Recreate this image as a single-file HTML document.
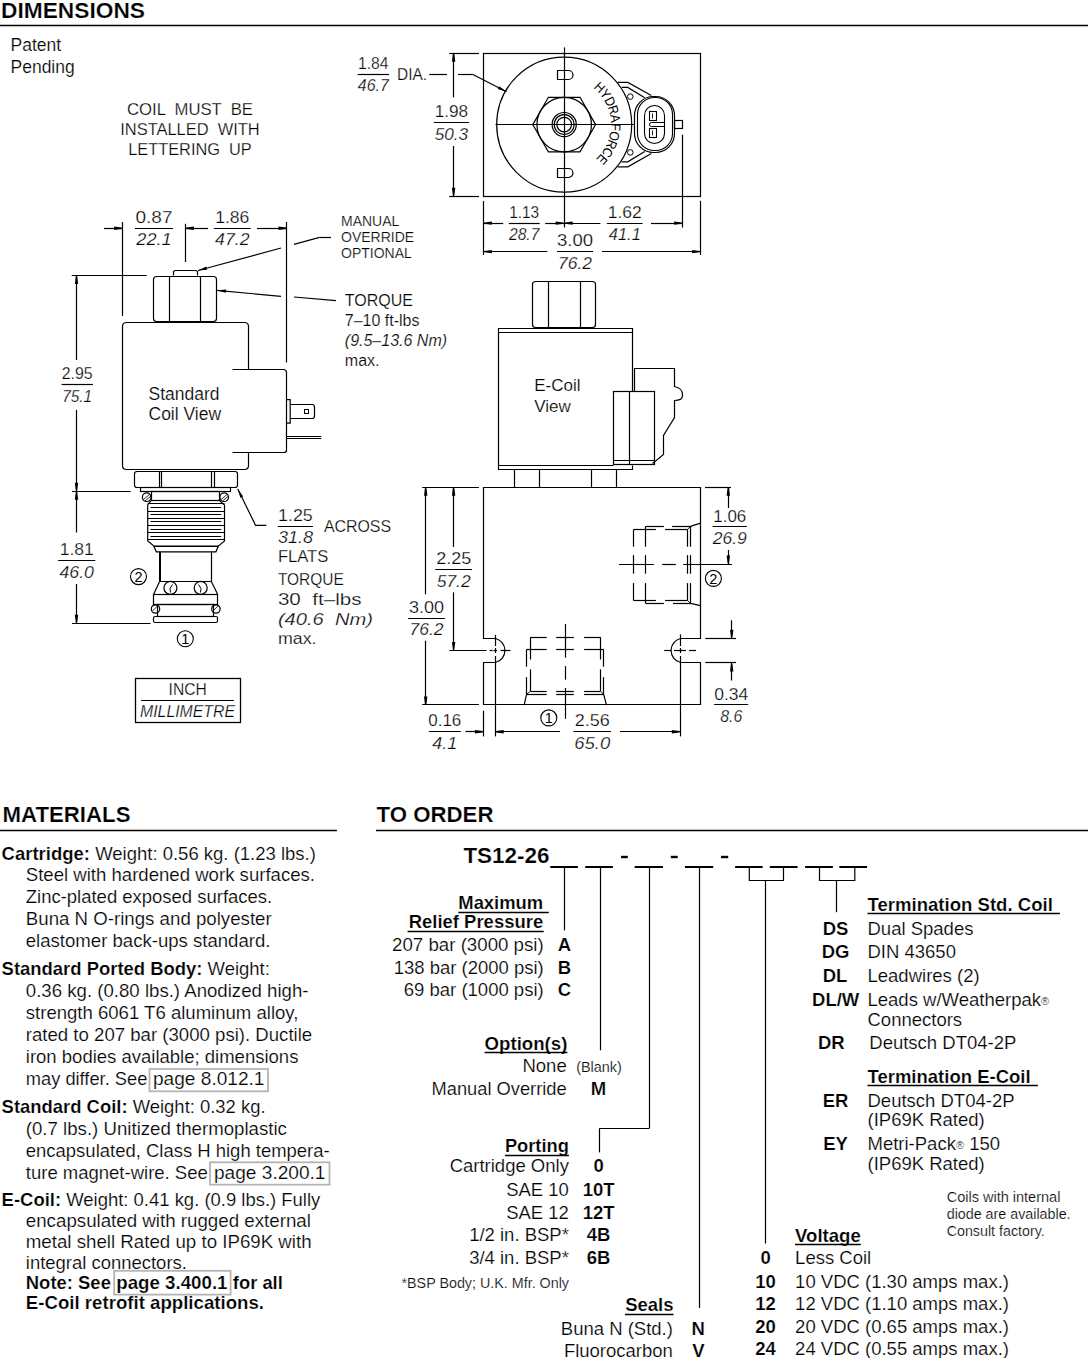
<!DOCTYPE html>
<html><head><meta charset="utf-8"><style>
html,body{margin:0;padding:0;background:#fff;}
body{width:1088px;height:1358px;overflow:hidden;position:relative;}
svg{position:absolute;left:0;top:0;}
text{font-family:"Liberation Sans",sans-serif;fill:#000;stroke:#fff;stroke-width:0.2px;}
text.cad{stroke-width:0.25px;} text.dk{stroke:none;}
</style></head><body>
<svg width="1088" height="1358" viewBox="0 0 1088 1358" stroke="#000" stroke-linecap="butt">
<text x="1.0" y="17.5" font-size="22" font-weight="bold" textLength="144.0" lengthAdjust="spacingAndGlyphs">DIMENSIONS</text>
<line x1="0.0" y1="25.5" x2="1088.0" y2="25.5" stroke-width="1.3"/>
<text x="10.5" y="50.5" font-size="17.5">Patent</text>
<text x="10.5" y="72.5" font-size="17.5">Pending</text>
<text x="190.0" y="115.0" font-size="16.5" text-anchor="middle" textLength="126.0" lengthAdjust="spacingAndGlyphs" class="cad" xml:space="preserve">COIL  MUST  BE</text>
<text x="190.0" y="135.3" font-size="16.5" text-anchor="middle" textLength="139.5" lengthAdjust="spacingAndGlyphs" class="cad" xml:space="preserve">INSTALLED  WITH</text>
<text x="190.0" y="155.0" font-size="16.5" text-anchor="middle" textLength="123.5" lengthAdjust="spacingAndGlyphs" class="cad" xml:space="preserve">LETTERING  UP</text>
<line x1="122.5" y1="222.0" x2="122.5" y2="316.0" stroke-width="1.2"/>
<line x1="185.5" y1="223.8" x2="185.5" y2="262.0" stroke-width="1.2"/>
<line x1="286.5" y1="222.0" x2="286.5" y2="362.5" stroke-width="1.2"/>
<line x1="104.0" y1="228.5" x2="122.5" y2="228.5" stroke-width="1.2"/>
<polygon points="121.7,227.6 121.7,229.0 114.0,230.0 114.0,226.6" fill="#000" stroke="none"/>
<line x1="185.5" y1="228.5" x2="208.0" y2="228.5" stroke-width="1.2"/>
<polygon points="186.3,227.6 186.3,229.0 194.0,230.0 194.0,226.6" fill="#000" stroke="none"/>
<line x1="257.0" y1="228.5" x2="287.0" y2="228.5" stroke-width="1.2"/>
<polygon points="286.2,227.6 286.2,229.0 278.5,230.0 278.5,226.6" fill="#000" stroke="none"/>
<line x1="135.0" y1="228.5" x2="173.0" y2="228.5" stroke-width="1.2"/>
<text x="154.0" y="222.9" font-size="16" text-anchor="middle" textLength="37.0" lengthAdjust="spacingAndGlyphs" class="cad" xml:space="preserve">0.87</text>
<text x="154.0" y="245.3" font-size="16" text-anchor="middle" font-style="italic" textLength="35.4" lengthAdjust="spacingAndGlyphs" class="cad" xml:space="preserve">22.1</text>
<line x1="213.8" y1="228.5" x2="250.8" y2="228.5" stroke-width="1.2"/>
<text x="232.3" y="222.9" font-size="16" text-anchor="middle" textLength="34.2" lengthAdjust="spacingAndGlyphs" class="cad" xml:space="preserve">1.86</text>
<text x="232.3" y="245.3" font-size="16" text-anchor="middle" font-style="italic" textLength="34.5" lengthAdjust="spacingAndGlyphs" class="cad" xml:space="preserve">47.2</text>
<text x="341.0" y="226.0" font-size="14">MANUAL</text>
<text x="341.0" y="242.2" font-size="14">OVERRIDE</text>
<text x="341.0" y="258.4" font-size="14">OPTIONAL</text>
<line x1="331.0" y1="237.5" x2="319.5" y2="237.5" stroke-width="1.2"/>
<line x1="319.5" y1="237.3" x2="294.0" y2="244.3" stroke-width="1.2"/>
<line x1="281.0" y1="248.0" x2="198.0" y2="270.5" stroke-width="1.2"/>
<polygon points="198.0,270.5 206.3,266.6 207.1,269.7" fill="#000" stroke="none"/>
<text x="344.8" y="305.7" font-size="16">TORQUE</text>
<text x="344.8" y="325.7" font-size="16">7–10 ft-lbs</text>
<text x="344.8" y="345.6" font-size="16" font-style="italic">(9.5–13.6 Nm)</text>
<text x="344.8" y="365.6" font-size="16">max.</text>
<line x1="336.0" y1="300.7" x2="294.0" y2="297.0" stroke-width="1.2"/>
<line x1="281.0" y1="296.3" x2="217.0" y2="290.4" stroke-width="1.2"/>
<polygon points="217.0,290.4 226.1,289.6 225.8,292.8" fill="#000" stroke="none"/>
<line x1="71.7" y1="275.5" x2="146.8" y2="275.5" stroke-width="1.2"/>
<line x1="76.5" y1="275.4" x2="76.5" y2="360.0" stroke-width="1.2"/>
<polygon points="75.8,276.2 77.2,276.2 78.2,283.9 74.8,283.9" fill="#000" stroke="none"/>
<line x1="61.6" y1="384.5" x2="92.9" y2="384.5" stroke-width="1.2"/>
<text x="77.2" y="379.2" font-size="16" text-anchor="middle" textLength="31.0" lengthAdjust="spacingAndGlyphs" class="cad" xml:space="preserve">2.95</text>
<text x="77.2" y="401.6" font-size="16" text-anchor="middle" font-style="italic" textLength="30.0" lengthAdjust="spacingAndGlyphs" class="cad" xml:space="preserve">75.1</text>
<line x1="76.5" y1="409.8" x2="76.5" y2="491.2" stroke-width="1.2"/>
<polygon points="75.8,490.4 77.2,490.4 78.2,482.7 74.8,482.7" fill="#000" stroke="none"/>
<line x1="72.0" y1="491.5" x2="130.7" y2="491.5" stroke-width="1.2"/>
<line x1="76.5" y1="491.2" x2="76.5" y2="532.5" stroke-width="1.2"/>
<polygon points="75.8,492.0 77.2,492.0 78.2,499.7 74.8,499.7" fill="#000" stroke="none"/>
<line x1="58.1" y1="560.5" x2="95.3" y2="560.5" stroke-width="1.2"/>
<text x="76.7" y="555.3" font-size="16" text-anchor="middle" textLength="34.0" lengthAdjust="spacingAndGlyphs" class="cad" xml:space="preserve">1.81</text>
<text x="76.7" y="577.7" font-size="16" text-anchor="middle" font-style="italic" textLength="34.5" lengthAdjust="spacingAndGlyphs" class="cad" xml:space="preserve">46.0</text>
<line x1="76.5" y1="584.0" x2="76.5" y2="623.2" stroke-width="1.2"/>
<polygon points="75.8,622.4 77.2,622.4 78.2,614.7 74.8,614.7" fill="#000" stroke="none"/>
<line x1="72.0" y1="623.5" x2="150.5" y2="623.5" stroke-width="1.2"/>
<polyline points="173.5,275.5 173.5,271.5 175.0,270.5 196.0,270.5 197.5,271.5 197.5,275.5" fill="none" stroke-width="1.2"/>
<rect x="153.5" y="276.5" width="63.0" height="45.0" rx="3" fill="none" stroke-width="1.2"/>
<line x1="169.5" y1="276.5" x2="169.5" y2="321.7" stroke-width="1.2"/>
<line x1="200.5" y1="276.5" x2="200.5" y2="321.7" stroke-width="1.2"/>
<path d="M 248.5 369.5 V 326.5 Q 248.5 322.5 244.5 322.5 H 126.5 Q 122.5 322.5 122.5 326.5 V 465.5 Q 122.5 469.5 126.5 469.5 H 244.5 Q 248.5 469.5 248.5 465.5 V 452.5" fill="none" stroke-width="1.2"/>
<path d="M 232.5 369.5 H 283.5 Q 286.5 369.5 286.5 372.5 V 450.5 Q 286.5 452.5 283.5 452.5 H 232.5" fill="none" stroke-width="1.2"/>
<polyline points="286.4,399.6 290.2,399.6 290.2,423.2 286.4,423.2" fill="none" stroke-width="1.2"/>
<path d="M 290.5 404.5 H 312.5 Q 314.5 404.5 314.5 407.5 V 415.5 Q 314.5 418.5 312.5 418.5 H 290.5" fill="none" stroke-width="1.2"/>
<rect x="304.5" y="409.5" width="4.0" height="4.0" rx="0" fill="none" stroke-width="1"/>
<line x1="286.4" y1="436.5" x2="321.3" y2="436.5" stroke-width="1"/>
<line x1="286.4" y1="438.5" x2="321.3" y2="438.5" stroke-width="1"/>
<text x="148.5" y="400.0" font-size="17.5">Standard</text>
<text x="148.5" y="420.0" font-size="17.5">Coil View</text>
<rect x="134.5" y="471.5" width="103.0" height="16.0" rx="2.5" fill="none" stroke-width="1.2"/>
<line x1="159.5" y1="471.6" x2="159.5" y2="487.3" stroke-width="1.2"/>
<line x1="161.5" y1="471.6" x2="161.5" y2="487.3" stroke-width="1.2"/>
<line x1="211.5" y1="471.6" x2="211.5" y2="487.3" stroke-width="1.2"/>
<line x1="214.5" y1="471.6" x2="214.5" y2="487.3" stroke-width="1.2"/>
<rect x="140.5" y="487.5" width="90.0" height="4.0" rx="0" fill="none" stroke-width="1.2"/>
<rect x="151.5" y="491.5" width="68.0" height="9.0" rx="0" fill="none" stroke-width="1.2"/>
<circle cx="146.7" cy="497.2" r="4.3" fill="none" stroke-width="1.2"/>
<circle cx="224.2" cy="497.2" r="4.3" fill="none" stroke-width="1.2"/>
<line x1="143.5" y1="499.5" x2="149.5" y2="494.5" stroke-width="0.8"/>
<line x1="145.0" y1="501.0" x2="151.0" y2="496.0" stroke-width="0.8"/>
<line x1="221.0" y1="499.5" x2="227.0" y2="494.5" stroke-width="0.8"/>
<line x1="222.5" y1="501.0" x2="228.5" y2="496.0" stroke-width="0.8"/>
<polyline points="151.4,500.2 147.7,505.0 147.7,541.0 153.8,546.0 218.4,546.0 224.5,541.0 224.5,505.0 219.2,500.2" fill="none" stroke-width="1.2"/>
<line x1="147.7" y1="503.5" x2="224.5" y2="503.5" stroke-width="1.2"/>
<line x1="150.5" y1="507.5" x2="221.2" y2="507.5" stroke-width="1.2"/>
<line x1="147.7" y1="511.5" x2="224.5" y2="511.5" stroke-width="1.2"/>
<line x1="150.5" y1="514.5" x2="221.2" y2="514.5" stroke-width="1.2"/>
<line x1="147.7" y1="518.5" x2="224.5" y2="518.5" stroke-width="1.2"/>
<line x1="150.5" y1="521.5" x2="221.2" y2="521.5" stroke-width="1.2"/>
<line x1="147.7" y1="525.5" x2="224.5" y2="525.5" stroke-width="1.2"/>
<line x1="150.5" y1="529.5" x2="221.2" y2="529.5" stroke-width="1.2"/>
<line x1="147.7" y1="532.5" x2="224.5" y2="532.5" stroke-width="1.2"/>
<line x1="150.5" y1="536.5" x2="221.2" y2="536.5" stroke-width="1.2"/>
<line x1="147.7" y1="539.5" x2="224.5" y2="539.5" stroke-width="1.2"/>
<polyline points="153.8,546.0 156.3,551.8 215.9,551.8 218.4,546.0" fill="none" stroke-width="1.2"/>
<line x1="153.8" y1="546.5" x2="218.4" y2="546.5" stroke-width="1.2"/>
<line x1="160.0" y1="551.8" x2="160.0" y2="581.6" stroke-width="2"/>
<line x1="211.5" y1="551.8" x2="211.5" y2="581.6" stroke-width="1.2"/>
<polyline points="159.6,581.6 153.8,594.0" fill="none" stroke-width="1.2"/>
<polyline points="211.3,581.6 217.5,594.0" fill="none" stroke-width="1.2"/>
<line x1="159.6" y1="581.5" x2="211.3" y2="581.5" stroke-width="1.2"/>
<circle cx="170.4" cy="587.9" r="6.5" fill="none" stroke-width="1.2"/>
<circle cx="200.7" cy="587.9" r="6.5" fill="none" stroke-width="1.2"/>
<path d="M 172.5 584.5 Q 168.5 588.5 170.5 592.5" fill="none" stroke-width="1"/>
<path d="M 198.5 584.5 Q 202.5 588.5 200.5 592.5" fill="none" stroke-width="1"/>
<rect x="153.5" y="594.5" width="64.0" height="10.0" rx="0" fill="none" stroke-width="1.2"/>
<rect x="157.5" y="604.5" width="56.0" height="12.0" rx="0" fill="none" stroke-width="1.2"/>
<circle cx="155.5" cy="609.0" r="4.2" fill="none" stroke-width="1.2"/>
<circle cx="215.9" cy="609.0" r="4.2" fill="none" stroke-width="1.2"/>
<line x1="152.5" y1="611.0" x2="157.5" y2="606.0" stroke-width="0.8"/>
<line x1="213.0" y1="611.0" x2="218.0" y2="606.0" stroke-width="0.8"/>
<rect x="153.5" y="616.5" width="64.0" height="6.0" rx="1.5" fill="none" stroke-width="1.2"/>
<circle cx="138.5" cy="576.6" r="8.0" fill="none" stroke-width="1.1"/>
<text x="138.5" y="581.8" font-size="14.5" text-anchor="middle" class="cad dk">2</text>
<circle cx="185.3" cy="638.7" r="8.0" fill="none" stroke-width="1.1"/>
<text x="185.3" y="643.9" font-size="14.5" text-anchor="middle" class="cad dk">1</text>
<polyline points="266.4,525.4 255.6,525.4 237.8,489.0" fill="none" stroke-width="1.2"/>
<polygon points="237.8,489.0 243.2,496.4 240.3,497.8" fill="#000" stroke="none"/>
<line x1="277.8" y1="526.5" x2="312.9" y2="526.5" stroke-width="1.2"/>
<text x="295.4" y="521.0" font-size="16" text-anchor="middle" textLength="34.7" lengthAdjust="spacingAndGlyphs" class="cad" xml:space="preserve">1.25</text>
<text x="295.4" y="543.4" font-size="16" text-anchor="middle" font-style="italic" textLength="35.0" lengthAdjust="spacingAndGlyphs" class="cad" xml:space="preserve">31.8</text>
<text x="323.9" y="531.5" font-size="16" textLength="67.2" lengthAdjust="spacingAndGlyphs" class="cad" xml:space="preserve">ACROSS</text>
<text x="277.9" y="561.8" font-size="16" textLength="50.4" lengthAdjust="spacingAndGlyphs" class="cad" xml:space="preserve">FLATS</text>
<text x="277.9" y="585.0" font-size="16" textLength="65.9" lengthAdjust="spacingAndGlyphs" class="cad" xml:space="preserve">TORQUE</text>
<text x="277.9" y="604.9" font-size="16" textLength="83.6" lengthAdjust="spacingAndGlyphs" class="cad" xml:space="preserve">30  ft–lbs</text>
<text x="277.9" y="624.8" font-size="16" font-style="italic" textLength="95.2" lengthAdjust="spacingAndGlyphs" class="cad" xml:space="preserve">(40.6  Nm)</text>
<text x="277.9" y="644.1" font-size="16" textLength="38.6" lengthAdjust="spacingAndGlyphs" class="cad" xml:space="preserve">max.</text>
<rect x="135.5" y="678.5" width="105.0" height="44.0" rx="0" fill="none" stroke-width="1.3"/>
<line x1="141.1" y1="700.5" x2="234.0" y2="700.5" stroke-width="1.2"/>
<text x="187.7" y="695.1" font-size="16" text-anchor="middle" textLength="38.2" lengthAdjust="spacingAndGlyphs" class="cad" xml:space="preserve">INCH</text>
<text x="187.5" y="716.6" font-size="16" text-anchor="middle" font-style="italic" textLength="94.9" lengthAdjust="spacingAndGlyphs" class="cad" xml:space="preserve">MILLIMETRE</text>
<rect x="483.5" y="53.5" width="217.0" height="143.0" rx="0" fill="none" stroke-width="1.2"/>
<line x1="449.2" y1="53.5" x2="479.0" y2="53.5" stroke-width="1.2"/>
<line x1="449.2" y1="196.5" x2="479.0" y2="196.5" stroke-width="1.2"/>
<line x1="453.5" y1="53.2" x2="453.5" y2="97.4" stroke-width="1.2"/>
<polygon points="452.9,54.0 454.3,54.0 455.3,61.7 451.9,61.7" fill="#000" stroke="none"/>
<line x1="453.5" y1="146.0" x2="453.5" y2="196.2" stroke-width="1.2"/>
<polygon points="452.9,195.4 454.3,195.4 455.3,187.7 451.9,187.7" fill="#000" stroke="none"/>
<line x1="433.8" y1="122.5" x2="469.0" y2="122.5" stroke-width="1.2"/>
<text x="451.4" y="117.3" font-size="16" text-anchor="middle" textLength="33.5" lengthAdjust="spacingAndGlyphs" class="cad" xml:space="preserve">1.98</text>
<text x="451.4" y="139.7" font-size="16" text-anchor="middle" font-style="italic" textLength="33.5" lengthAdjust="spacingAndGlyphs" class="cad" xml:space="preserve">50.3</text>
<line x1="357.6" y1="74.5" x2="389.0" y2="74.5" stroke-width="1.2"/>
<text x="373.3" y="68.8" font-size="16" text-anchor="middle" textLength="30.5" lengthAdjust="spacingAndGlyphs" class="cad" xml:space="preserve">1.84</text>
<text x="373.3" y="91.2" font-size="16" text-anchor="middle" font-style="italic" textLength="31.0" lengthAdjust="spacingAndGlyphs" class="cad" xml:space="preserve">46.7</text>
<text x="397.0" y="79.7" font-size="16" textLength="30.0" lengthAdjust="spacingAndGlyphs" class="cad" xml:space="preserve">DIA.</text>
<line x1="429.3" y1="74.5" x2="447.0" y2="74.5" stroke-width="1.2"/>
<line x1="458.0" y1="74.5" x2="472.4" y2="74.5" stroke-width="1.2"/>
<line x1="472.4" y1="74.2" x2="506.5" y2="91.8" stroke-width="1.2"/>
<polygon points="506.5,91.8 497.8,89.1 499.2,86.3" fill="#000" stroke="none"/>
<circle cx="564.2" cy="124.6" r="67.5" fill="none" stroke-width="1.2"/>
<polygon points="532.8,124.6 548.4,97.3 580.0,97.3 595.6,124.6 580.0,151.9 548.4,151.9" fill="none" stroke-width="1.2"/>
<circle cx="564.2" cy="124.6" r="27.3" fill="none" stroke-width="1.2"/>
<circle cx="564.2" cy="124.6" r="12.1" fill="none" stroke-width="1.2"/>
<circle cx="564.2" cy="124.6" r="10.0" fill="none" stroke-width="1.2"/>
<circle cx="564.2" cy="124.6" r="7.3" fill="none" stroke-width="1.2"/>
<path d="M 557.5 70.5 H 568.5 A 4.4 4.4 0 0 1 568.5 79.5 H 557.5 Z" fill="none" stroke-width="1.2"/>
<path d="M 557.5 168.5 H 568.5 A 4.45 4.45 0 0 1 568.5 177.5 H 557.5 Z" fill="none" stroke-width="1.2"/>
<polyline points="617.9,82.4 627.8,82.4 651.4,95.6" fill="none" stroke-width="1.2"/>
<polyline points="621.6,87.4 627.8,87.4 644.7,97.7" fill="none" stroke-width="1.2"/>
<polyline points="617.9,166.8 627.8,166.8 651.4,153.6" fill="none" stroke-width="1.2"/>
<polyline points="621.6,161.8 627.8,161.8 644.7,151.5" fill="none" stroke-width="1.2"/>
<circle cx="630.3" cy="96.6" r="2.8" fill="none" stroke-width="1"/>
<circle cx="630.3" cy="152.4" r="2.8" fill="none" stroke-width="1"/>
<rect x="634.5" y="96.5" width="40.0" height="56.0" rx="19" stroke-width="1.2" fill="#fff"/>
<rect x="637.5" y="97.5" width="35.0" height="53.0" rx="17" fill="none" stroke-width="1.1"/>
<rect x="644.5" y="105.5" width="20.0" height="38.0" rx="10" fill="none" stroke-width="1.1"/>
<path d="M 664.5 122.5 H 651.5 Q 649.5 122.5 649.5 124.5 Q 649.5 126.5 651.5 126.5 H 664.5" fill="none" stroke-width="1"/>
<rect x="649.5" y="111.5" width="7.0" height="9.0" rx="0" fill="none" stroke-width="1.1"/>
<line x1="652.5" y1="113.5" x2="652.5" y2="118.5" stroke-width="0.9"/>
<rect x="649.5" y="128.5" width="7.0" height="9.0" rx="0" fill="none" stroke-width="1.1"/>
<line x1="652.5" y1="130.4" x2="652.5" y2="135.4" stroke-width="0.9"/>
<rect x="674.5" y="120.5" width="8.0" height="8.0" rx="0" fill="none" stroke-width="1.2"/>
<line x1="564.5" y1="47.4" x2="564.5" y2="227.5" stroke-width="1.2"/>
<line x1="495.5" y1="124.5" x2="634.0" y2="124.5" stroke-width="1.2"/>
<text transform="translate(596.41,90.65) rotate(43.50) scale(0.9,1)" font-size="13.5" text-anchor="middle" class="cad dk">H</text>
<text transform="translate(601.77,96.70) rotate(53.40) scale(0.9,1)" font-size="13.5" text-anchor="middle" class="cad dk">Y</text>
<text transform="translate(606.01,103.57) rotate(63.30) scale(0.9,1)" font-size="13.5" text-anchor="middle" class="cad dk">D</text>
<text transform="translate(609.00,111.07) rotate(73.20) scale(0.9,1)" font-size="13.5" text-anchor="middle" class="cad dk">R</text>
<text transform="translate(610.66,118.98) rotate(83.10) scale(0.9,1)" font-size="13.5" text-anchor="middle" class="cad dk">A</text>
<text transform="translate(610.94,127.05) rotate(93.00) scale(0.9,1)" font-size="13.5" text-anchor="middle" class="cad dk">F</text>
<text transform="translate(609.82,135.05) rotate(102.90) scale(0.9,1)" font-size="13.5" text-anchor="middle" class="cad dk">O</text>
<text transform="translate(607.34,142.74) rotate(112.80) scale(0.9,1)" font-size="13.5" text-anchor="middle" class="cad dk">R</text>
<text transform="translate(603.58,149.88) rotate(122.70) scale(0.9,1)" font-size="13.5" text-anchor="middle" class="cad dk">C</text>
<text transform="translate(598.65,156.28) rotate(132.60) scale(0.9,1)" font-size="13.5" text-anchor="middle" class="cad dk">E</text>
<line x1="682.5" y1="134.7" x2="682.5" y2="227.5" stroke-width="1.2"/>
<line x1="483.5" y1="201.0" x2="483.5" y2="255.0" stroke-width="1.2"/>
<line x1="700.5" y1="200.8" x2="700.5" y2="255.0" stroke-width="1.2"/>
<line x1="483.4" y1="223.5" x2="503.2" y2="223.5" stroke-width="1.2"/>
<polygon points="484.2,222.4 484.2,223.8 491.9,224.8 491.9,221.4" fill="#000" stroke="none"/>
<line x1="545.2" y1="223.5" x2="564.2" y2="223.5" stroke-width="1.2"/>
<polygon points="563.4,222.4 563.4,223.8 555.7,224.8 555.7,221.4" fill="#000" stroke="none"/>
<line x1="564.2" y1="223.5" x2="600.4" y2="223.5" stroke-width="1.2"/>
<polygon points="565.0,222.4 565.0,223.8 572.7,224.8 572.7,221.4" fill="#000" stroke="none"/>
<line x1="651.0" y1="223.5" x2="682.6" y2="223.5" stroke-width="1.2"/>
<polygon points="681.8,222.4 681.8,223.8 674.1,224.8 674.1,221.4" fill="#000" stroke="none"/>
<line x1="508.8" y1="223.5" x2="539.6" y2="223.5" stroke-width="1.2"/>
<text x="524.2" y="217.7" font-size="16" text-anchor="middle" textLength="30.0" lengthAdjust="spacingAndGlyphs" class="cad" xml:space="preserve">1.13</text>
<text x="524.2" y="240.1" font-size="16" text-anchor="middle" font-style="italic" textLength="30.5" lengthAdjust="spacingAndGlyphs" class="cad" xml:space="preserve">28.7</text>
<line x1="606.9" y1="223.5" x2="642.6" y2="223.5" stroke-width="1.2"/>
<text x="624.8" y="217.7" font-size="16" text-anchor="middle" textLength="34.0" lengthAdjust="spacingAndGlyphs" class="cad" xml:space="preserve">1.62</text>
<text x="624.8" y="240.1" font-size="16" text-anchor="middle" font-style="italic" textLength="32.0" lengthAdjust="spacingAndGlyphs" class="cad" xml:space="preserve">41.1</text>
<line x1="483.4" y1="251.5" x2="547.4" y2="251.5" stroke-width="1.2"/>
<polygon points="484.2,250.9 484.2,252.3 491.9,253.3 491.9,249.9" fill="#000" stroke="none"/>
<line x1="602.0" y1="251.5" x2="700.6" y2="251.5" stroke-width="1.2"/>
<polygon points="699.8,250.9 699.8,252.3 692.1,253.3 692.1,249.9" fill="#000" stroke="none"/>
<line x1="557.0" y1="251.5" x2="593.0" y2="251.5" stroke-width="1.2"/>
<text x="575.0" y="246.2" font-size="16" text-anchor="middle" textLength="36.0" lengthAdjust="spacingAndGlyphs" class="cad" xml:space="preserve">3.00</text>
<text x="575.0" y="268.6" font-size="16" text-anchor="middle" font-style="italic" textLength="34.0" lengthAdjust="spacingAndGlyphs" class="cad" xml:space="preserve">76.2</text>
<rect x="532.5" y="281.5" width="63.0" height="46.0" rx="3" fill="none" stroke-width="1.2"/>
<line x1="548.5" y1="281.5" x2="548.5" y2="327.2" stroke-width="1.2"/>
<line x1="580.5" y1="281.5" x2="580.5" y2="327.2" stroke-width="1.2"/>
<path d="M 632.5 391.5 V 328.5 H 498.5 V 469.5 H 632.5 V 465.5" fill="none" stroke-width="1.2"/>
<line x1="498.2" y1="332.5" x2="632.7" y2="332.5" stroke-width="1.2"/>
<line x1="498.2" y1="465.5" x2="613.5" y2="465.5" stroke-width="1.2"/>
<path d="M 634.5 391.5 V 368.5 H 674.5 V 386.5 Q 683.5 388.5 682.5 395.5 Q 682.5 400.5 674.5 400.5 V 417.5 L 663.5 435.5 V 454.5 L 652.5 463.5" fill="none" stroke-width="1.2"/>
<rect x="613.5" y="391.5" width="41.0" height="73.0" rx="0" fill="none" stroke-width="1.2"/>
<line x1="629.5" y1="391.3" x2="629.5" y2="464.1" stroke-width="1.2"/>
<line x1="613.5" y1="460.5" x2="654.3" y2="460.5" stroke-width="1.2"/>
<line x1="514.5" y1="469.6" x2="514.5" y2="487.4" stroke-width="1.2"/>
<line x1="539.5" y1="469.6" x2="539.5" y2="487.4" stroke-width="1.2"/>
<line x1="591.5" y1="469.6" x2="591.5" y2="487.4" stroke-width="1.2"/>
<line x1="616.5" y1="469.6" x2="616.5" y2="487.4" stroke-width="1.2"/>
<text x="534.2" y="391.3" font-size="17">E-Coil</text>
<text x="534.2" y="411.6" font-size="17">View</text>
<path d="M 483.5 487.5 H 700.5 V 638.5 H 680.5 A 12.35 12.35 0 0 0 680.5 662.5 H 700.5 V 704.5 H 483.5 V 662.5 H 495.5 A 12.35 12.35 0 0 0 495.5 638.5 H 483.5 Z" fill="none" stroke-width="1.2"/>
<line x1="422.2" y1="487.5" x2="478.9" y2="487.5" stroke-width="1.2"/>
<line x1="422.2" y1="704.5" x2="478.9" y2="704.5" stroke-width="1.2"/>
<line x1="425.5" y1="487.2" x2="425.5" y2="594.3" stroke-width="1.2"/>
<polygon points="425.0,488.0 426.4,488.0 427.4,495.7 424.0,495.7" fill="#000" stroke="none"/>
<line x1="425.5" y1="640.7" x2="425.5" y2="705.0" stroke-width="1.2"/>
<polygon points="425.0,704.2 426.4,704.2 427.4,696.5 424.0,696.5" fill="#000" stroke="none"/>
<line x1="408.1" y1="618.5" x2="444.9" y2="618.5" stroke-width="1.2"/>
<text x="426.5" y="613.0" font-size="16" text-anchor="middle" textLength="35.0" lengthAdjust="spacingAndGlyphs" class="cad" xml:space="preserve">3.00</text>
<text x="426.5" y="635.4" font-size="16" text-anchor="middle" font-style="italic" textLength="34.0" lengthAdjust="spacingAndGlyphs" class="cad" xml:space="preserve">76.2</text>
<line x1="453.5" y1="487.2" x2="453.5" y2="547.0" stroke-width="1.2"/>
<polygon points="452.9,488.0 454.3,488.0 455.3,495.7 451.9,495.7" fill="#000" stroke="none"/>
<line x1="453.5" y1="592.3" x2="453.5" y2="650.5" stroke-width="1.2"/>
<polygon points="452.9,649.7 454.3,649.7 455.3,642.0 451.9,642.0" fill="#000" stroke="none"/>
<line x1="435.3" y1="569.5" x2="472.1" y2="569.5" stroke-width="1.2"/>
<text x="453.7" y="564.2" font-size="16" text-anchor="middle" textLength="35.0" lengthAdjust="spacingAndGlyphs" class="cad" xml:space="preserve">2.25</text>
<text x="453.7" y="586.6" font-size="16" text-anchor="middle" font-style="italic" textLength="34.0" lengthAdjust="spacingAndGlyphs" class="cad" xml:space="preserve">57.2</text>
<line x1="449.4" y1="650.5" x2="486.5" y2="650.5" stroke-width="1.2"/>
<line x1="489.6" y1="650.5" x2="492.7" y2="650.5" stroke-width="1.2"/>
<line x1="493.5" y1="650.5" x2="497.0" y2="650.5" stroke-width="1.2"/>
<line x1="500.5" y1="650.5" x2="510.5" y2="650.5" stroke-width="1.2"/>
<line x1="495.5" y1="634.9" x2="495.5" y2="646.0" stroke-width="1.2"/>
<line x1="495.5" y1="648.0" x2="495.5" y2="653.0" stroke-width="1.2"/>
<line x1="495.5" y1="656.0" x2="495.5" y2="736.4" stroke-width="1.2"/>
<line x1="483.5" y1="710.7" x2="483.5" y2="736.4" stroke-width="1.2"/>
<line x1="465.5" y1="731.5" x2="483.4" y2="731.5" stroke-width="1.2"/>
<polygon points="482.6,731.0 482.6,732.4 474.9,733.4 474.9,730.0" fill="#000" stroke="none"/>
<line x1="428.8" y1="731.5" x2="460.8" y2="731.5" stroke-width="1.2"/>
<text x="444.8" y="726.3" font-size="16" text-anchor="middle" textLength="33.0" lengthAdjust="spacingAndGlyphs" class="cad" xml:space="preserve">0.16</text>
<text x="444.8" y="748.7" font-size="16" text-anchor="middle" font-style="italic" textLength="25.0" lengthAdjust="spacingAndGlyphs" class="cad" xml:space="preserve">4.1</text>
<line x1="680.5" y1="634.4" x2="680.5" y2="646.0" stroke-width="1.2"/>
<line x1="680.5" y1="648.0" x2="680.5" y2="653.0" stroke-width="1.2"/>
<line x1="680.5" y1="656.0" x2="680.5" y2="736.4" stroke-width="1.2"/>
<line x1="664.2" y1="650.5" x2="671.0" y2="650.5" stroke-width="1.2"/>
<line x1="674.0" y1="650.5" x2="686.0" y2="650.5" stroke-width="1.2"/>
<line x1="689.0" y1="650.5" x2="696.0" y2="650.5" stroke-width="1.2"/>
<line x1="495.2" y1="731.5" x2="560.0" y2="731.5" stroke-width="1.2"/>
<polygon points="496.0,731.0 496.0,732.4 503.7,733.4 503.7,730.0" fill="#000" stroke="none"/>
<line x1="620.0" y1="731.5" x2="680.3" y2="731.5" stroke-width="1.2"/>
<polygon points="679.5,731.0 679.5,732.4 671.8,733.4 671.8,730.0" fill="#000" stroke="none"/>
<line x1="573.5" y1="731.5" x2="611.0" y2="731.5" stroke-width="1.2"/>
<text x="592.3" y="726.3" font-size="16" text-anchor="middle" textLength="35.0" lengthAdjust="spacingAndGlyphs" class="cad" xml:space="preserve">2.56</text>
<text x="592.3" y="748.7" font-size="16" text-anchor="middle" font-style="italic" textLength="36.0" lengthAdjust="spacingAndGlyphs" class="cad" xml:space="preserve">65.0</text>
<line x1="633.5" y1="529.5" x2="655.9" y2="529.5" stroke-width="1.2"/>
<line x1="665.1" y1="529.5" x2="687.5" y2="529.5" stroke-width="1.2"/>
<line x1="633.5" y1="600.5" x2="655.9" y2="600.5" stroke-width="1.2"/>
<line x1="665.1" y1="600.5" x2="687.5" y2="600.5" stroke-width="1.2"/>
<line x1="633.5" y1="529.5" x2="633.5" y2="546.7" stroke-width="1.2"/>
<line x1="633.5" y1="555.1" x2="633.5" y2="573.7" stroke-width="1.2"/>
<line x1="633.5" y1="583.1" x2="633.5" y2="600.5" stroke-width="1.2"/>
<line x1="687.5" y1="529.5" x2="687.5" y2="546.7" stroke-width="1.2"/>
<line x1="687.5" y1="555.1" x2="687.5" y2="573.7" stroke-width="1.2"/>
<line x1="687.5" y1="583.1" x2="687.5" y2="600.5" stroke-width="1.2"/>
<line x1="645.5" y1="526.5" x2="663.9" y2="526.5" stroke-width="1.2"/>
<line x1="672.1" y1="526.5" x2="690.4" y2="526.5" stroke-width="1.2"/>
<line x1="645.5" y1="603.5" x2="663.9" y2="603.5" stroke-width="1.2"/>
<line x1="673.0" y1="603.5" x2="690.4" y2="603.5" stroke-width="1.2"/>
<line x1="645.5" y1="526.4" x2="645.5" y2="546.7" stroke-width="1.2"/>
<line x1="645.5" y1="555.1" x2="645.5" y2="573.7" stroke-width="1.2"/>
<line x1="645.5" y1="583.1" x2="645.5" y2="603.4" stroke-width="1.2"/>
<line x1="690.5" y1="526.4" x2="690.5" y2="546.7" stroke-width="1.2"/>
<line x1="690.5" y1="555.1" x2="690.5" y2="573.7" stroke-width="1.2"/>
<line x1="690.5" y1="583.1" x2="690.5" y2="603.4" stroke-width="1.2"/>
<line x1="687.5" y1="529.5" x2="690.4" y2="526.4" stroke-width="0.9"/>
<line x1="687.5" y1="600.5" x2="690.4" y2="603.4" stroke-width="0.9"/>
<line x1="690.4" y1="526.4" x2="700.6" y2="523.1" stroke-width="1.2"/>
<line x1="690.4" y1="603.4" x2="700.6" y2="605.6" stroke-width="1.2"/>
<line x1="619.0" y1="564.5" x2="653.9" y2="564.5" stroke-width="1.2"/>
<line x1="662.1" y1="564.5" x2="675.8" y2="564.5" stroke-width="1.2"/>
<line x1="683.2" y1="564.5" x2="732.0" y2="564.5" stroke-width="1.2"/>
<line x1="705.0" y1="487.5" x2="731.0" y2="487.5" stroke-width="1.2"/>
<line x1="728.5" y1="487.2" x2="728.5" y2="508.0" stroke-width="1.2"/>
<polygon points="727.6,488.0 729.0,488.0 730.0,495.7 726.6,495.7" fill="#000" stroke="none"/>
<line x1="728.5" y1="550.0" x2="728.5" y2="564.0" stroke-width="1.2"/>
<polygon points="727.6,563.2 729.0,563.2 730.0,555.5 726.6,555.5" fill="#000" stroke="none"/>
<line x1="712.6" y1="526.5" x2="746.9" y2="526.5" stroke-width="1.2"/>
<text x="729.8" y="521.5" font-size="16" text-anchor="middle" textLength="33.0" lengthAdjust="spacingAndGlyphs" class="cad" xml:space="preserve">1.06</text>
<text x="729.8" y="543.9" font-size="16" text-anchor="middle" font-style="italic" textLength="34.0" lengthAdjust="spacingAndGlyphs" class="cad" xml:space="preserve">26.9</text>
<circle cx="713.4" cy="578.4" r="8.0" fill="none" stroke-width="1.1"/>
<text x="713.4" y="583.6" font-size="14.5" text-anchor="middle" class="cad dk">2</text>
<line x1="705.3" y1="638.5" x2="736.0" y2="638.5" stroke-width="1.2"/>
<line x1="705.3" y1="662.5" x2="736.0" y2="662.5" stroke-width="1.2"/>
<line x1="731.5" y1="620.3" x2="731.5" y2="638.2" stroke-width="1.2"/>
<polygon points="731.0,637.4 732.4,637.4 733.4,629.7 730.0,629.7" fill="#000" stroke="none"/>
<line x1="731.5" y1="662.9" x2="731.5" y2="680.5" stroke-width="1.2"/>
<polygon points="731.0,663.7 732.4,663.7 733.4,671.4 730.0,671.4" fill="#000" stroke="none"/>
<line x1="714.2" y1="704.5" x2="748.2" y2="704.5" stroke-width="1.2"/>
<text x="731.2" y="699.6" font-size="16" text-anchor="middle" textLength="34.0" lengthAdjust="spacingAndGlyphs" class="cad" xml:space="preserve">0.34</text>
<text x="731.2" y="722.0" font-size="16" text-anchor="middle" font-style="italic" textLength="22.0" lengthAdjust="spacingAndGlyphs" class="cad" xml:space="preserve">8.6</text>
<line x1="530.4" y1="637.5" x2="546.7" y2="637.5" stroke-width="1.2"/>
<line x1="556.2" y1="637.5" x2="573.8" y2="637.5" stroke-width="1.2"/>
<line x1="584.1" y1="637.5" x2="600.5" y2="637.5" stroke-width="1.2"/>
<line x1="530.4" y1="691.5" x2="546.7" y2="691.5" stroke-width="1.2"/>
<line x1="556.2" y1="691.5" x2="573.8" y2="691.5" stroke-width="1.2"/>
<line x1="584.1" y1="691.5" x2="600.5" y2="691.5" stroke-width="1.2"/>
<line x1="530.5" y1="637.3" x2="530.5" y2="659.5" stroke-width="1.2"/>
<line x1="530.5" y1="669.4" x2="530.5" y2="691.2" stroke-width="1.2"/>
<line x1="600.5" y1="637.3" x2="600.5" y2="659.5" stroke-width="1.2"/>
<line x1="600.5" y1="669.4" x2="600.5" y2="691.2" stroke-width="1.2"/>
<line x1="526.5" y1="649.5" x2="546.7" y2="649.5" stroke-width="1.2"/>
<line x1="556.2" y1="649.5" x2="573.8" y2="649.5" stroke-width="1.2"/>
<line x1="584.1" y1="649.5" x2="603.7" y2="649.5" stroke-width="1.2"/>
<line x1="526.5" y1="694.5" x2="546.7" y2="694.5" stroke-width="1.2"/>
<line x1="556.2" y1="694.5" x2="573.8" y2="694.5" stroke-width="1.2"/>
<line x1="584.1" y1="694.5" x2="603.7" y2="694.5" stroke-width="1.2"/>
<line x1="526.5" y1="649.4" x2="526.5" y2="666.7" stroke-width="1.2"/>
<line x1="526.5" y1="677.2" x2="526.5" y2="694.3" stroke-width="1.2"/>
<line x1="603.5" y1="649.4" x2="603.5" y2="666.7" stroke-width="1.2"/>
<line x1="603.5" y1="677.2" x2="603.5" y2="694.3" stroke-width="1.2"/>
<line x1="526.5" y1="694.3" x2="530.4" y2="691.2" stroke-width="0.9"/>
<line x1="603.7" y1="694.3" x2="600.5" y2="691.2" stroke-width="0.9"/>
<line x1="526.5" y1="694.3" x2="524.2" y2="705.2" stroke-width="1.2"/>
<line x1="603.7" y1="694.3" x2="606.5" y2="705.2" stroke-width="1.2"/>
<line x1="565.5" y1="624.1" x2="565.5" y2="657.7" stroke-width="1.2"/>
<line x1="565.5" y1="666.1" x2="565.5" y2="679.7" stroke-width="1.2"/>
<line x1="565.5" y1="688.0" x2="565.5" y2="718.8" stroke-width="1.2"/>
<circle cx="548.8" cy="717.9" r="8.0" fill="none" stroke-width="1.1"/>
<text x="548.8" y="723.1" font-size="14.5" text-anchor="middle" class="cad dk">1</text>
<text x="2.5" y="822.4" font-size="22" font-weight="bold" textLength="128.0" lengthAdjust="spacingAndGlyphs">MATERIALS</text>
<line x1="0.0" y1="830.5" x2="336.9" y2="830.5" stroke-width="1.3"/>
<text x="1.6" y="859.5" font-size="18.5" textLength="314.3" lengthAdjust="spacingAndGlyphs"><tspan font-weight="bold">Cartridge: </tspan><tspan>Weight: 0.56 kg. (1.23 lbs.)</tspan></text>
<text x="25.8" y="881.4" font-size="18.5" textLength="289.2" lengthAdjust="spacingAndGlyphs"><tspan>Steel with hardened work surfaces.</tspan></text>
<text x="25.8" y="903.3" font-size="18.5" textLength="246.4" lengthAdjust="spacingAndGlyphs"><tspan>Zinc-plated exposed surfaces.</tspan></text>
<text x="25.8" y="925.2" font-size="18.5" textLength="245.9" lengthAdjust="spacingAndGlyphs"><tspan>Buna N O-rings and polyester</tspan></text>
<text x="25.8" y="947.1" font-size="18.5" textLength="244.6" lengthAdjust="spacingAndGlyphs"><tspan>elastomer back-ups standard.</tspan></text>
<text x="1.6" y="974.8" font-size="18.5" textLength="268.2" lengthAdjust="spacingAndGlyphs"><tspan font-weight="bold">Standard Ported Body: </tspan><tspan>Weight:</tspan></text>
<text x="25.8" y="996.8" font-size="18.5" textLength="282.7" lengthAdjust="spacingAndGlyphs"><tspan>0.36 kg. (0.80 lbs.) Anodized high-</tspan></text>
<text x="25.8" y="1018.8" font-size="18.5" textLength="272.6" lengthAdjust="spacingAndGlyphs"><tspan>strength 6061 T6 aluminum alloy,</tspan></text>
<text x="25.8" y="1040.8" font-size="18.5" textLength="286.4" lengthAdjust="spacingAndGlyphs"><tspan>rated to 207 bar (3000 psi). Ductile</tspan></text>
<text x="25.8" y="1062.8" font-size="18.5" textLength="272.6" lengthAdjust="spacingAndGlyphs"><tspan>iron bodies available; dimensions</tspan></text>
<text x="25.8" y="1084.8" font-size="18.5" textLength="121.5" lengthAdjust="spacingAndGlyphs"><tspan>may differ. See</tspan></text>
<rect x="149.5" y="1069" width="118.5" height="22.3" fill="none" stroke="#b4b4b4" stroke-width="1.8"/>
<text x="153.0" y="1084.8" font-size="18.5" textLength="111.5" lengthAdjust="spacingAndGlyphs">page 8.012.1</text>
<text x="1.6" y="1112.5" font-size="18.5" textLength="264.0" lengthAdjust="spacingAndGlyphs"><tspan font-weight="bold">Standard Coil: </tspan><tspan>Weight: 0.32 kg.</tspan></text>
<text x="25.8" y="1134.6" font-size="18.5" textLength="261.1" lengthAdjust="spacingAndGlyphs"><tspan>(0.7 lbs.) Unitized thermoplastic</tspan></text>
<text x="25.8" y="1156.6" font-size="18.5" textLength="303.9" lengthAdjust="spacingAndGlyphs"><tspan>encapsulated, Class H high tempera-</tspan></text>
<text x="25.8" y="1178.5" font-size="18.5" textLength="182.0" lengthAdjust="spacingAndGlyphs"><tspan>ture magnet-wire. See</tspan></text>
<rect x="210" y="1162.3" width="119.5" height="22.4" fill="none" stroke="#b4b4b4" stroke-width="1.8"/>
<text x="214.0" y="1178.5" font-size="18.5" textLength="111.5" lengthAdjust="spacingAndGlyphs">page 3.200.1</text>
<text x="1.6" y="1205.6" font-size="18.5" textLength="318.7" lengthAdjust="spacingAndGlyphs"><tspan font-weight="bold">E-Coil: </tspan><tspan>Weight: 0.41 kg. (0.9 lbs.) Fully</tspan></text>
<text x="25.8" y="1226.6" font-size="18.5" textLength="285.1" lengthAdjust="spacingAndGlyphs"><tspan>encapsulated with rugged external</tspan></text>
<text x="25.8" y="1247.8" font-size="18.5" textLength="285.8" lengthAdjust="spacingAndGlyphs"><tspan>metal shell Rated up to IP69K with</tspan></text>
<text x="25.8" y="1268.7" font-size="18.5" textLength="161.1" lengthAdjust="spacingAndGlyphs"><tspan>integral connectors.</tspan></text>
<text x="25.8" y="1288.5" font-size="18.5" textLength="85.1" lengthAdjust="spacingAndGlyphs"><tspan font-weight="bold">Note: See</tspan></text>
<rect x="114.2" y="1270.8" width="116.4" height="23.8" fill="none" stroke="#b4b4b4" stroke-width="1.8"/>
<text x="116.3" y="1288.5" font-size="18.5" font-weight="bold" textLength="111.2" lengthAdjust="spacingAndGlyphs">page 3.400.1</text>
<text x="232.8" y="1288.5" font-size="18.5" font-weight="bold" textLength="50.0" lengthAdjust="spacingAndGlyphs">for all</text>
<text x="25.8" y="1308.8" font-size="18.5" textLength="238.2" lengthAdjust="spacingAndGlyphs"><tspan font-weight="bold">E-Coil retrofit applications.</tspan></text>
<text x="376.5" y="822.2" font-size="22" font-weight="bold" textLength="117.0" lengthAdjust="spacingAndGlyphs">TO ORDER</text>
<line x1="375.9" y1="830.5" x2="1088.0" y2="830.5" stroke-width="1.3"/>
<text x="463.4" y="862.5" font-size="22" font-weight="bold" textLength="86.0" lengthAdjust="spacingAndGlyphs">TS12-26</text>
<line x1="550.3" y1="867.0" x2="577.9" y2="867.0" stroke-width="2"/>
<line x1="585.2" y1="867.0" x2="612.9" y2="867.0" stroke-width="2"/>
<line x1="634.7" y1="867.0" x2="663.0" y2="867.0" stroke-width="2"/>
<line x1="684.9" y1="867.0" x2="713.2" y2="867.0" stroke-width="2"/>
<line x1="735.1" y1="867.0" x2="762.6" y2="867.0" stroke-width="2"/>
<line x1="769.8" y1="867.0" x2="797.6" y2="867.0" stroke-width="2"/>
<line x1="805.1" y1="867.0" x2="832.9" y2="867.0" stroke-width="2"/>
<line x1="839.3" y1="867.0" x2="867.1" y2="867.0" stroke-width="2"/>
<line x1="621.1" y1="857.0" x2="627.8" y2="857.0" stroke-width="2.4"/>
<line x1="670.8" y1="857.0" x2="677.7" y2="857.0" stroke-width="2.4"/>
<line x1="721.0" y1="857.0" x2="728.2" y2="857.0" stroke-width="2.4"/>
<line x1="564.5" y1="867.2" x2="564.5" y2="930.4" stroke-width="1.2"/>
<line x1="600.5" y1="867.2" x2="600.5" y2="1050.3" stroke-width="1.2"/>
<line x1="649.5" y1="867.2" x2="649.5" y2="1128.2" stroke-width="1.2"/>
<line x1="649.4" y1="1128.5" x2="599.8" y2="1128.5" stroke-width="1.2"/>
<line x1="599.5" y1="1128.2" x2="599.5" y2="1152.4" stroke-width="1.2"/>
<line x1="699.5" y1="867.2" x2="699.5" y2="1308.0" stroke-width="1.2"/>
<polyline points="749.3,867.2 749.3,880.5 783.5,880.5 783.5,867.2" fill="none" stroke-width="1.2"/>
<line x1="765.5" y1="880.5" x2="765.5" y2="1243.4" stroke-width="1.2"/>
<polyline points="819.5,867.2 819.5,880.5 854.8,880.5 854.8,867.2" fill="none" stroke-width="1.2"/>
<line x1="836.5" y1="880.5" x2="836.5" y2="912.2" stroke-width="1.2"/>
<text x="543.2" y="908.8" font-size="18.5" text-anchor="end" font-weight="bold" textLength="84.9" lengthAdjust="spacingAndGlyphs">Maximum</text>
<line x1="458.3" y1="912.5" x2="548.8" y2="912.5" stroke-width="1.3"/>
<text x="543.2" y="928.2" font-size="18.5" text-anchor="end" font-weight="bold" textLength="134.5" lengthAdjust="spacingAndGlyphs">Relief Pressure</text>
<line x1="407.6" y1="931.5" x2="543.7" y2="931.5" stroke-width="1.3"/>
<text x="543.7" y="951.4" font-size="18.5" text-anchor="end" textLength="151.6" lengthAdjust="spacingAndGlyphs">207 bar (3000 psi)</text>
<text x="543.7" y="973.5" font-size="18.5" text-anchor="end" textLength="150.0" lengthAdjust="spacingAndGlyphs">138 bar (2000 psi)</text>
<text x="543.7" y="995.5" font-size="18.5" text-anchor="end">69 bar (1000 psi)</text>
<text x="564.5" y="951.4" font-size="18.5" text-anchor="middle" font-weight="bold">A</text>
<text x="564.5" y="973.5" font-size="18.5" text-anchor="middle" font-weight="bold">B</text>
<text x="564.5" y="995.5" font-size="18.5" text-anchor="middle" font-weight="bold">C</text>
<text x="567.4" y="1049.9" font-size="18.5" text-anchor="end" font-weight="bold" textLength="82.8" lengthAdjust="spacingAndGlyphs">Option(s)</text>
<line x1="484.6" y1="1052.5" x2="567.4" y2="1052.5" stroke-width="1.3"/>
<text x="566.7" y="1072.4" font-size="18.5" text-anchor="end">None</text>
<text x="576.2" y="1072.4" font-size="14.5" textLength="45.7" lengthAdjust="spacingAndGlyphs">(Blank)</text>
<text x="566.7" y="1095.1" font-size="18.5" text-anchor="end" textLength="135.2" lengthAdjust="spacingAndGlyphs">Manual Override</text>
<text x="598.5" y="1095.1" font-size="18.5" text-anchor="middle" font-weight="bold">M</text>
<text x="568.9" y="1151.8" font-size="18.5" text-anchor="end" font-weight="bold" textLength="64.0" lengthAdjust="spacingAndGlyphs">Porting</text>
<line x1="504.9" y1="1155.5" x2="568.9" y2="1155.5" stroke-width="1.3"/>
<text x="568.9" y="1172.3" font-size="18.5" text-anchor="end">Cartridge Only</text>
<text x="598.6" y="1172.3" font-size="18.5" text-anchor="middle" font-weight="bold">0</text>
<text x="568.9" y="1195.5" font-size="18.5" text-anchor="end">SAE 10</text>
<text x="598.6" y="1195.5" font-size="18.5" text-anchor="middle" font-weight="bold">10T</text>
<text x="568.9" y="1218.6" font-size="18.5" text-anchor="end">SAE 12</text>
<text x="598.6" y="1218.6" font-size="18.5" text-anchor="middle" font-weight="bold">12T</text>
<text x="568.9" y="1241.3" font-size="18.5" text-anchor="end">1/2 in. BSP*</text>
<text x="598.6" y="1241.3" font-size="18.5" text-anchor="middle" font-weight="bold">4B</text>
<text x="568.9" y="1264.4" font-size="18.5" text-anchor="end">3/4 in. BSP*</text>
<text x="598.6" y="1264.4" font-size="18.5" text-anchor="middle" font-weight="bold">6B</text>
<text x="569.0" y="1288.2" font-size="14.3" text-anchor="end" textLength="167.5" lengthAdjust="spacingAndGlyphs">*BSP Body; U.K. Mfr. Only</text>
<text x="673.5" y="1311.3" font-size="18.5" text-anchor="end" font-weight="bold">Seals</text>
<line x1="625.0" y1="1314.5" x2="673.5" y2="1314.5" stroke-width="1.3"/>
<text x="672.9" y="1334.5" font-size="18.5" text-anchor="end">Buna N (Std.)</text>
<text x="698.3" y="1334.5" font-size="18.5" text-anchor="middle" font-weight="bold">N</text>
<text x="672.9" y="1356.5" font-size="18.5" text-anchor="end">Fluorocarbon</text>
<text x="698.3" y="1356.5" font-size="18.5" text-anchor="middle" font-weight="bold">V</text>
<text x="867.5" y="910.6" font-size="18.5" font-weight="bold" textLength="185.3" lengthAdjust="spacingAndGlyphs">Termination Std. Coil</text>
<line x1="867.5" y1="913.5" x2="1059.9" y2="913.5" stroke-width="1.3"/>
<text x="835.5" y="934.5" font-size="18.5" text-anchor="middle" font-weight="bold">DS</text>
<text x="867.5" y="934.5" font-size="18.5">Dual Spades</text>
<text x="835.5" y="958.3" font-size="18.5" text-anchor="middle" font-weight="bold">DG</text>
<text x="867.5" y="958.3" font-size="18.5">DIN 43650</text>
<text x="835.0" y="982.1" font-size="18.5" text-anchor="middle" font-weight="bold">DL</text>
<text x="867.5" y="982.1" font-size="18.5">Leadwires (2)</text>
<text x="835.7" y="1005.9" font-size="18.5" text-anchor="middle" font-weight="bold">DL/W</text>
<text x="867.5" y="1005.9" font-size="18.5">Leads w/Weatherpak<tspan font-size="11" dy="-1">®</tspan></text>
<text x="831.3" y="1048.8" font-size="18.5" text-anchor="middle" font-weight="bold">DR</text>
<text x="869.3" y="1048.8" font-size="18.5">Deutsch DT04-2P</text>
<text x="867.5" y="1025.5" font-size="18.5">Connectors</text>
<text x="867.5" y="1082.8" font-size="18.5" font-weight="bold">Termination E-Coil</text>
<line x1="867.5" y1="1085.5" x2="1037.9" y2="1085.5" stroke-width="1.3"/>
<text x="835.5" y="1106.8" font-size="18.5" text-anchor="middle" font-weight="bold">ER</text>
<text x="867.5" y="1106.8" font-size="18.5">Deutsch DT04-2P</text>
<text x="867.5" y="1126.3" font-size="18.5">(IP69K Rated)</text>
<text x="835.5" y="1149.8" font-size="18.5" text-anchor="middle" font-weight="bold">EY</text>
<text x="867.5" y="1149.8" font-size="18.5">Metri-Pack<tspan font-size="11" dy="-1">®</tspan><tspan dy="1"> 150</tspan></text>
<text x="867.5" y="1170.0" font-size="18.5">(IP69K Rated)</text>
<text x="946.7" y="1201.8" font-size="14.5" textLength="113.7" lengthAdjust="spacingAndGlyphs">Coils with internal</text>
<text x="946.7" y="1218.9" font-size="14.5" textLength="123.9" lengthAdjust="spacingAndGlyphs">diode are available.</text>
<text x="946.7" y="1235.9" font-size="14.5" textLength="98.0" lengthAdjust="spacingAndGlyphs">Consult factory.</text>
<text x="795.1" y="1241.5" font-size="18.5" font-weight="bold" textLength="65.7" lengthAdjust="spacingAndGlyphs">Voltage</text>
<line x1="795.1" y1="1244.5" x2="860.8" y2="1244.5" stroke-width="1.3"/>
<text x="765.6" y="1264.1" font-size="18.5" text-anchor="middle" font-weight="bold">0</text>
<text x="795.1" y="1264.1" font-size="18.5">Less Coil</text>
<text x="765.6" y="1287.5" font-size="18.5" text-anchor="middle" font-weight="bold">10</text>
<text x="795.1" y="1287.5" font-size="18.5">10 VDC (1.30 amps max.)</text>
<text x="765.6" y="1310.4" font-size="18.5" text-anchor="middle" font-weight="bold">12</text>
<text x="795.1" y="1310.4" font-size="18.5">12 VDC (1.10 amps max.)</text>
<text x="765.6" y="1333.0" font-size="18.5" text-anchor="middle" font-weight="bold">20</text>
<text x="795.1" y="1333.0" font-size="18.5">20 VDC (0.65 amps max.)</text>
<text x="765.6" y="1355.4" font-size="18.5" text-anchor="middle" font-weight="bold">24</text>
<text x="795.1" y="1355.4" font-size="18.5">24 VDC (0.55 amps max.)</text>
</svg>
</body></html>
